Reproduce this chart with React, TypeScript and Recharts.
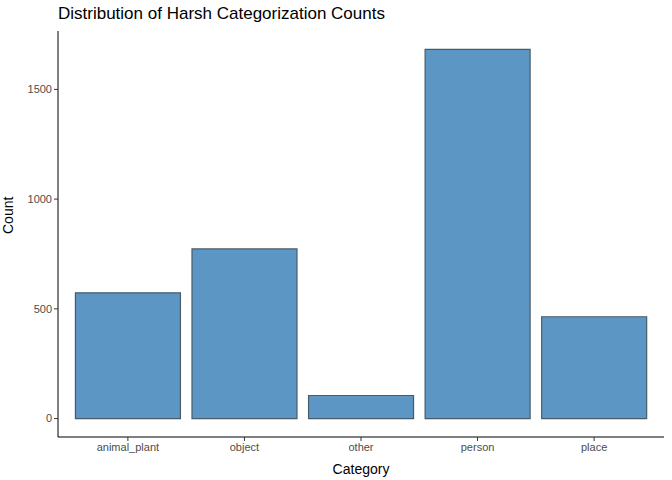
import { BarChart, Bar, XAxis, YAxis } from "recharts";

const CATEGORIES = ["animal_plant", "object", "other", "person", "place"];
const COUNTS = [573, 773, 105, 1682, 464];
const Y_TICKS = [0, 500, 1000, 1500];

const data = CATEGORIES.map((name, i) => ({ name, count: COUNTS[i] }));

export default function App() {
  return (
    <div style={{ position: "absolute", left: 0, top: 0, width: 672, height: 480, fontFamily: "Liberation Sans, Arial, sans-serif" }}>
      <div style={{ position: "absolute", left: 58, top: 4, fontSize: 17, color: "#000" }}>
        Distribution of Harsh Categorization Counts
      </div>
      <BarChart width={672} height={480} data={data} margin={{ top: 31, right: 8, left: 8, bottom: 0 }} barCategoryGap="5%">
        <XAxis
          dataKey="name"
          padding={{ left: 11.6, right: 11.6 }}
          height={43}
          tickSize={4}
          tick={{ fontSize: 11, fill: "#4d4d4d" }}
          stroke="#000"
          tickLine={{ stroke: "#333" }}
          label={{ value: "Category", position: "insideBottom", offset: 6, fontSize: 14, fill: "#000" }}
        />
        <YAxis
          width={50}
          domain={[-84, 1766]}
          ticks={Y_TICKS}
          tickSize={4}
          tick={{ fontSize: 11, fill: "#4d4d4d" }}
          stroke="#000"
          tickLine={{ stroke: "#333" }}
          label={{ value: "Count", angle: -90, position: "insideLeft", offset: 0, fontSize: 14, fill: "#000" }}
        />
        <Bar dataKey="count" fill="#5b96c4" stroke="#4a5b68" strokeWidth={1.2} isAnimationActive={false} />
      </BarChart>
    </div>
  );
}
